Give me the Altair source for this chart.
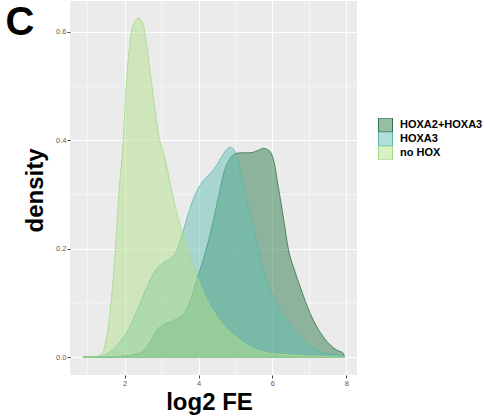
import altair as alt
import pandas as pd

groups = ["HOXA2+HOXA3", "HOXA3", "no HOX"]
fill_colors = ["rgba(47,123,77,0.5)", "rgba(101,191,179,0.5)", "rgba(179,223,139,0.5)"]
line_colors = ["#2b7448", "#5bb7aa", "#a6db85"]

# HOXA2+HOXA3 density
x_a2a3 = [0.88, 1.50, 1.97, 2.20, 2.42, 2.61, 2.75, 2.88, 3.05, 3.24, 3.40, 3.51, 3.65, 3.78,
          3.96, 4.14, 4.25, 4.36, 4.54, 4.68, 4.86, 5.04, 5.20, 5.40, 5.60, 5.76, 5.89, 6.03,
          6.16, 6.30, 6.43, 6.60, 6.75, 7.02, 7.38, 7.74, 7.92, 7.95]
d_a2a3 = [0.000, 0.000, 0.002, 0.004, 0.008, 0.020, 0.035, 0.050, 0.060, 0.065, 0.070, 0.074,
          0.085, 0.105, 0.145, 0.182, 0.210, 0.240, 0.296, 0.339, 0.367, 0.376, 0.377, 0.377,
          0.381, 0.385, 0.382, 0.364, 0.314, 0.256, 0.200, 0.160, 0.130, 0.081, 0.037, 0.013,
          0.007, 0.000]

# HOXA3 density
x_a3 = [0.88, 1.20, 1.43, 1.70, 1.97, 2.15, 2.33, 2.50, 2.69, 2.88, 3.05, 3.24, 3.40, 3.51,
        3.69, 3.85, 4.05, 4.20, 4.36, 4.50, 4.63, 4.75, 4.86, 4.99, 5.08, 5.22, 5.40, 5.58,
        5.76, 6.03, 6.39, 6.84, 7.29, 7.74, 7.95]
d_a3 = [0.000, 0.000, 0.003, 0.015, 0.037, 0.058, 0.085, 0.113, 0.142, 0.164, 0.174, 0.182,
        0.195, 0.216, 0.257, 0.290, 0.318, 0.331, 0.342, 0.355, 0.370, 0.382, 0.387, 0.379,
        0.357, 0.314, 0.262, 0.213, 0.160, 0.111, 0.068, 0.031, 0.010, 0.004, 0.002]

# no HOX density
x_nohox = [0.88, 1.20, 1.39, 1.51, 1.63, 1.75, 1.84, 1.96, 2.04, 2.14, 2.23, 2.38, 2.51, 2.59,
           2.74, 2.92, 3.10, 3.27, 3.46, 3.64, 3.86, 4.14, 4.50, 4.95, 5.49, 5.94, 6.50, 7.00,
           7.50, 7.95]
d_nohox = [0.000, 0.001, 0.007, 0.037, 0.100, 0.200, 0.300, 0.400, 0.500, 0.579, 0.613, 0.625,
           0.613, 0.579, 0.500, 0.410, 0.364, 0.308, 0.253, 0.216, 0.167, 0.118, 0.074, 0.041,
           0.016, 0.007, 0.004, 0.002, 0.001, 0.000]

x_ticks = [2, 4, 6, 8]
y_ticks = [0.0, 0.2, 0.4, 0.6]
x_minor = [1, 3, 5, 7]
y_minor = [0.1, 0.3, 0.5]
panel_label = ["C"]

rows = []
for g, xs, ds in [(groups[0], x_a2a3, d_a2a3), (groups[1], x_a3, d_a3), (groups[2], x_nohox, d_nohox)]:
    for xv, dv in zip(xs, ds):
        rows.append({"x": xv, "density": dv, "group": g})
df = pd.DataFrame(rows)

xscale = alt.Scale(domain=[0.52, 8.29], nice=False, zero=False)
yscale = alt.Scale(domain=[-0.033, 0.657], nice=False, zero=False)
FONT = "Liberation Sans"

xaxis = alt.Axis(values=x_ticks, format="d", title="log2 FE", titleFontSize=24, titleFont=FONT,
                 titleFontWeight="bold", titleColor="black", titleX=139, titleY=34,
                 titleBaseline="alphabetic", titleAnchor="middle", titleAlign="center",
                 labelFont=FONT, labelFontSize=7.5, labelColor="#5a5a5a", tickColor="#444444",
                 tickSize=3, labelPadding=1, domain=False, grid=True, gridColor="white", gridWidth=1)
yaxis = alt.Axis(values=y_ticks, format=".1f", title="density", titleFontSize=24, titleFont=FONT,
                 titleFontWeight="bold", titleColor="black", titleX=-35, titleY=189,
                 titleBaseline="middle", titleAlign="center", titleAngle=270,
                 labelFont=FONT, labelFontSize=7.5, labelColor="#5a5a5a", tickColor="#444444",
                 tickSize=3, labelPadding=1, domain=False, grid=True, gridColor="white", gridWidth=1)

legend = alt.Legend(title=None, orient="none", legendX=308, legendY=117,
                    symbolType="square", symbolSize=196, symbolStrokeWidth=1,
                    labelFont=FONT, labelFontSize=11, labelFontWeight="bold",
                    labelColor="black", labelOffset=7, rowPadding=0, clipHeight=14, padding=0)
fill_enc = alt.Fill("group:N", scale=alt.Scale(domain=groups, range=fill_colors), legend=legend)
stroke_enc = alt.Stroke("group:N", scale=alt.Scale(domain=groups, range=line_colors), legend=legend)

xminor = alt.Chart(pd.DataFrame({"x": x_minor})).mark_rule(color="white", strokeWidth=0.5).encode(
    x=alt.X("x:Q", scale=xscale, axis=xaxis))
yminor = alt.Chart(pd.DataFrame({"density": y_minor})).mark_rule(color="white", strokeWidth=0.5).encode(
    y=alt.Y("density:Q", scale=yscale, axis=yaxis))

layers = [xminor, yminor]
for g in groups:
    layers.append(
        alt.Chart(df).transform_filter(alt.datum.group == g)
        .mark_area(strokeWidth=0.8, interpolate="monotone")
        .encode(
            x=alt.X("x:Q", scale=xscale, axis=xaxis),
            y=alt.Y("density:Q", scale=yscale, axis=yaxis),
            fill=fill_enc,
            stroke=stroke_enc,
        )
    )

label = alt.Chart(pd.DataFrame({"t": panel_label})).mark_text(
    font=FONT, fontSize=40, fontWeight="bold", color="black", align="center", baseline="middle"
).encode(text="t:N", x=alt.value(-50), y=alt.value(22))
layers.append(label)

chart = alt.layer(*layers).properties(
    width=287, height=374,
    autosize=alt.AutoSizeParams(type="none"),
    padding={"left": 70, "top": 1, "right": 133, "bottom": 43},
    background="white",
).configure_view(fill="#ebebeb", strokeWidth=0)

chart.save("out.html", embed_options={"renderer": "svg", "actions": False})
